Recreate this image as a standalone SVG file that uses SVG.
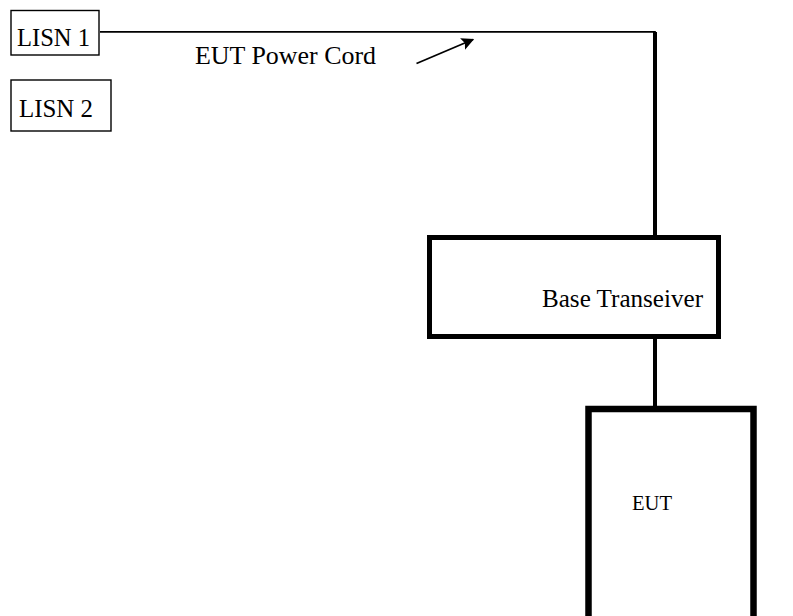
<svg xmlns="http://www.w3.org/2000/svg" width="793" height="616" viewBox="0 0 793 616">
  <defs>
    <marker id="ah" viewBox="0 0 10 10" refX="9" refY="5" markerWidth="7" markerHeight="7" orient="auto" markerUnits="strokeWidth">
      <path d="M0,0 L10,5 L0,10 L2,5 Z" fill="#000"/>
    </marker>
  </defs>
  <style>
    text { font-family: "Liberation Serif", "Times New Roman", serif; fill: #000; }
    .thin { fill: #fff; stroke: #000; stroke-width: 1.4; }
    .wire { fill: none; stroke: #000; }
  </style>
  <rect width="793" height="616" fill="#fff"/>
  <g id="connectors">
    <polyline class="wire" points="100,31.8 655,31.8 655,34" stroke-width="1.7"/>
    <line class="wire" x1="655" y1="32" x2="655" y2="237" stroke-width="4"/>
    <line class="wire" x1="655" y1="337" x2="655" y2="408" stroke-width="4"/>
  </g>
  <g id="lisn1">
    <rect class="thin" x="11" y="10.5" width="88" height="44.5"/>
    <text x="17" y="46" font-size="25" textLength="73" lengthAdjust="spacingAndGlyphs">LISN 1</text>
  </g>
  <g id="lisn2">
    <rect class="thin" x="11" y="80" width="100" height="51"/>
    <text x="19" y="117" font-size="25" textLength="74" lengthAdjust="spacingAndGlyphs">LISN 2</text>
  </g>
  <g id="cord-label">
    <text x="195" y="64" font-size="25" textLength="181" lengthAdjust="spacingAndGlyphs">EUT Power Cord</text>
    <line class="wire" x1="416.5" y1="63.5" x2="473" y2="39.5" stroke-width="1.8" marker-end="url(#ah)"/>
  </g>
  <g id="base">
    <rect x="429.5" y="237.5" width="289" height="99" fill="none" stroke="#000" stroke-width="5"/>
    <text x="542" y="307" font-size="25" textLength="161" lengthAdjust="spacingAndGlyphs">Base Transeiver</text>
  </g>
  <g id="eut">
    <rect x="588.5" y="409" width="165" height="260" fill="none" stroke="#000" stroke-width="6.5"/>
    <text x="632" y="510" font-size="22" textLength="40" lengthAdjust="spacingAndGlyphs">EUT</text>
  </g>
</svg>
